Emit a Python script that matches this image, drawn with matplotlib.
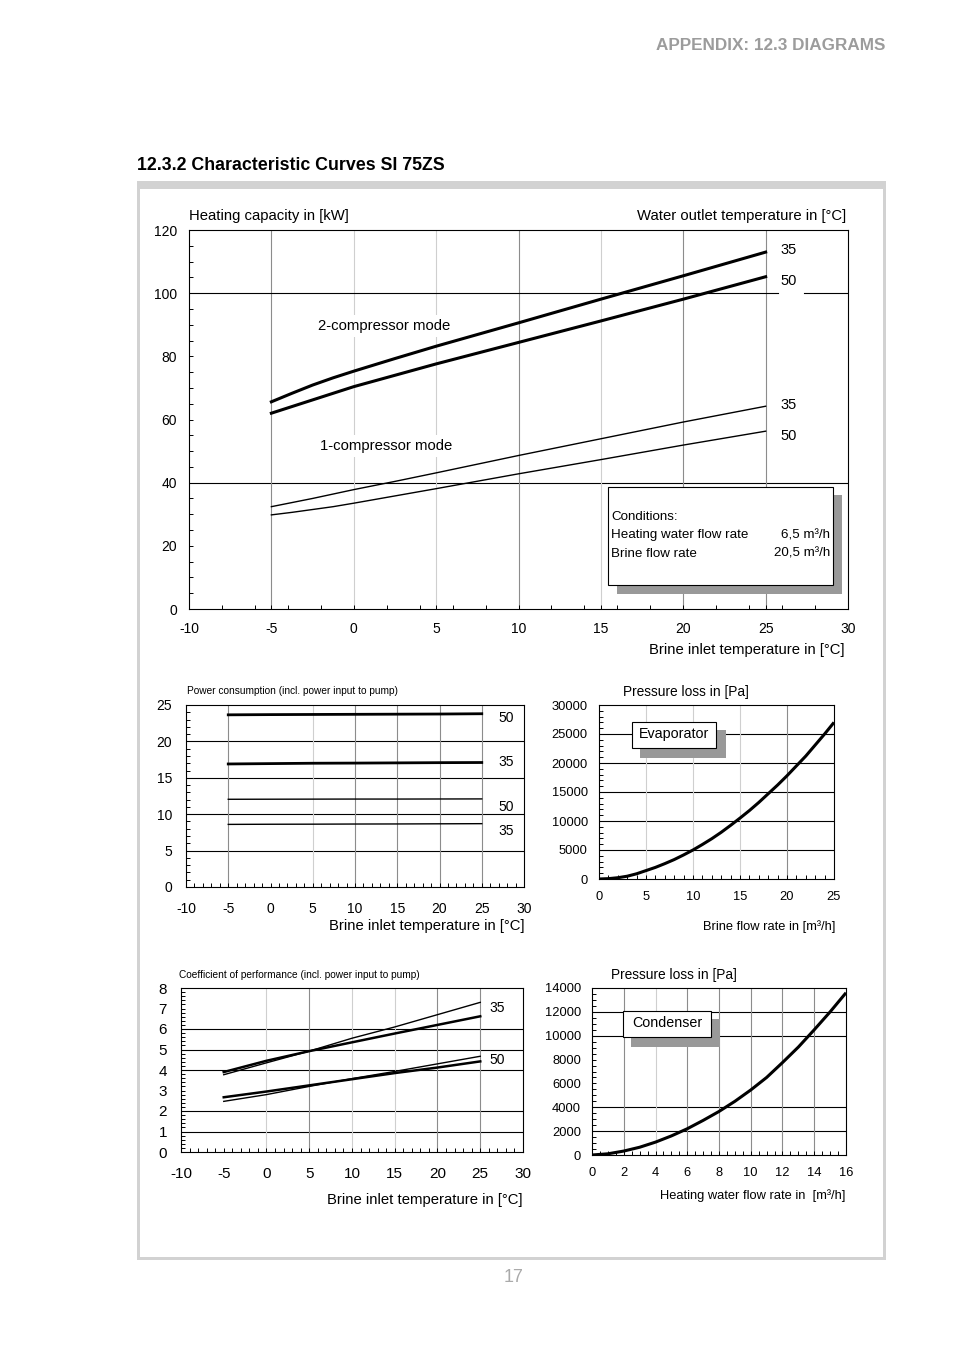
import matplotlib
matplotlib.use('Agg')
import matplotlib.pyplot as plt
from matplotlib.patches import Rectangle
from matplotlib.ticker import MultipleLocator

W, H = 954, 1351
NARROW = ['Liberation Sans Narrow', 'Liberation Sans', 'DejaVu Sans']
ARIAL = ['Liberation Sans', 'DejaVu Sans']
plt.rcParams['axes.unicode_minus'] = False
plt.rcParams['font.family'] = ARIAL

# ---------------- data ----------------
cap_temp = [-5, -3.75, -2.5, -1.25, 0, 2.5, 5, 10, 15, 20, 25]
cap_2c_35 = [65.6, 68.3, 70.9, 73.2, 75.3, 79.3, 83.2, 90.6, 98.1, 105.5, 113.0]
cap_2c_50 = [62.0, 64.1, 66.2, 68.3, 70.4, 74.0, 77.6, 84.4, 91.2, 98.1, 105.2]
cap_1c_35 = [32.4, 33.7, 35.0, 36.4, 37.8, 40.4, 43.1, 48.6, 53.9, 59.2, 64.2]
cap_1c_50 = [29.8, 30.6, 31.5, 32.4, 33.5, 35.8, 38.1, 42.8, 47.3, 51.9, 56.3]

pow_temp = [-5, 0, 5, 10, 15, 20, 25]
pow_2c_50 = [23.65, 23.68, 23.7, 23.72, 23.74, 23.76, 23.8]
pow_2c_35 = [16.9, 16.95, 17.0, 17.02, 17.05, 17.08, 17.1]
pow_1c_50 = [12.05, 12.06, 12.07, 12.08, 12.08, 12.09, 12.1]
pow_1c_35 = [8.6, 8.62, 8.63, 8.65, 8.66, 8.68, 8.7]

cop_temp = [-5, 0, 5, 10, 15, 20, 25]
cop_1c_35 = [3.77, 4.35, 4.92, 5.55, 6.10, 6.70, 7.30]
cop_2c_35 = [3.90, 4.45, 4.92, 5.35, 5.78, 6.20, 6.62]
cop_1c_50 = [2.47, 2.80, 3.20, 3.58, 3.93, 4.30, 4.67]
cop_2c_50 = [2.67, 2.95, 3.25, 3.55, 3.85, 4.12, 4.42]

evap_flow = [0, 1, 2, 3, 4, 5, 6, 7, 8, 9, 10, 11, 12, 13, 14, 15, 16, 17,
             18, 19, 20, 21, 22, 23, 24, 25]
evap_dp = [0, 60, 220, 480, 900, 1450, 2000, 2650, 3350, 4150, 5000, 5950,
           6950, 8050, 9250, 10500, 11800, 13200, 14700, 16200, 17800, 19500,
           21200, 23100, 25000, 27000]

cond_flow = [0, 1, 2, 3, 4, 5, 6, 7, 8, 9, 10, 11, 12, 13, 14, 15, 16]
cond_dp = [0, 100, 330, 650, 1080, 1600, 2200, 2900, 3650, 4500, 5450, 6500,
           7750, 9050, 10500, 12000, 13600]

# ---------------- helpers ----------------
def fx(x):
    return x / W

def fy(y):
    return 1 - y / H

def rect(l, t, r, b):
    return [l / W, 1 - b / H, (r - l) / W, (b - t) / H]

def frect(fig, l, t, r, b, **kw):
    p = Rectangle((fx(l), fy(b)), (r - l) / W, (b - t) / H,
                  transform=fig.transFigure, **kw)
    fig.patches.append(p)
    return p

def ftext(fig, x, y, s, **kw):
    kw.setdefault('va', 'center')
    return fig.text(fx(x), fy(y), s, **kw)

DARK = '#8c8c8c'
LIGHT = '#cfcfcf'

def style(ax, xlim, ylim, xmaj, xmin, ymaj, ymin, fs, fam, xpad, ypad,
          hlines, vgrid):
    ax.set_xlim(*xlim)
    ax.set_ylim(*ylim)
    ax.xaxis.set_major_locator(MultipleLocator(xmaj))
    ax.xaxis.set_minor_locator(MultipleLocator(xmin))
    ax.yaxis.set_major_locator(MultipleLocator(ymaj))
    ax.yaxis.set_minor_locator(MultipleLocator(ymin))
    ax.tick_params(which='both', direction='in', length=3, width=0.7,
                   top=False, right=False, color='black')
    ax.tick_params(axis='x', which='major', pad=xpad, labelsize=fs,
                   labelfontfamily=fam)
    ax.tick_params(axis='y', which='major', pad=ypad, labelsize=fs,
                   labelfontfamily=fam)
    for s in ax.spines.values():
        s.set_linewidth(0.8)
        s.set_color('black')
    for v in hlines:
        ax.axhline(v, color='black', lw=0.8, zorder=1)
    for v, c in vgrid:
        ax.axvline(v, color=c, lw=0.8, zorder=1)

fig = plt.figure(figsize=(W / 100, H / 100), dpi=100)

# page frame
frect(fig, 137, 181, 886, 1260, facecolor='#d2d2d2', edgecolor='none', zorder=-2)
frect(fig, 140, 189, 883, 1257, facecolor='white', edgecolor='none', zorder=-1)

ftext(fig, 885, 46, 'APPENDIX: 12.3 DIAGRAMS', ha='right', weight='bold',
      color='#9c9c9c', fontsize=12.3, family=ARIAL)
ftext(fig, 137, 166, '12.3.2 Characteristic Curves SI 75ZS', ha='left',
      weight='bold', fontsize=12.8, family=ARIAL)
ftext(fig, 514, 1277, '17', ha='center', color='#aaaaaa', fontsize=13,
      family=ARIAL)

# ---------------- heating capacity ----------------
ax1 = fig.add_axes(rect(189, 230, 848, 609))
style(ax1, (-10, 30), (0, 120), 5, 2, 20, 5, 10, NARROW, 9.5, 8.5,
      [40], [(-5, DARK), (0, LIGHT), (5, LIGHT), (10, DARK), (15, LIGHT),
             (20, DARK), (25, DARK)])
ax1.axhline(100, xmin=0, xmax=0.894, color='black', lw=0.8, zorder=1)
ax1.axhline(100, xmin=0.933, xmax=1, color='black', lw=0.8, zorder=1)
ax1.plot(cap_temp, cap_2c_35, color='black', lw=2.2, zorder=3)
ax1.plot(cap_temp, cap_2c_50, color='black', lw=2.2, zorder=3)
ax1.plot(cap_temp, cap_1c_35, color='black', lw=1.0, zorder=3)
ax1.plot(cap_temp, cap_1c_50, color='black', lw=1.0, zorder=3)
for lbl, yv in [('35', 113.7), ('50', 103.9), ('35', 64.6), ('50', 54.8)]:
    ax1.text(25.9, yv, lbl, ha='left', va='center', fontsize=10.5,
             family=NARROW)
ax1.text(-2.17, 89.6, '2-compressor mode', ha='left', va='center',
         fontsize=10.7, family=NARROW, zorder=2,
         bbox=dict(facecolor='white', edgecolor='none', pad=3))
ax1.text(-2.05, 51.6, '1-compressor mode', ha='left', va='center',
         fontsize=10.7, family=NARROW, zorder=2,
         bbox=dict(facecolor='white', edgecolor='none', pad=3))
ftext(fig, 189, 216, 'Heating capacity in [kW]', ha='left', fontsize=10.7,
      family=NARROW)
ftext(fig, 846, 216, 'Water outlet temperature in [°C]', ha='right',
      fontsize=10.7, family=NARROW)
ftext(fig, 845, 650, 'Brine inlet temperature in [°C]', ha='right',
      fontsize=10.7, family=NARROW)

# conditions box
frect(fig, 617, 495, 842, 594, facecolor='#999999', edgecolor='none', zorder=2)
frect(fig, 608, 487, 833, 585, facecolor='white', edgecolor='black',
      linewidth=0.8, zorder=2.5)
ftext(fig, 611, 517, 'Conditions:', ha='left', fontsize=9.6, family=NARROW,
      zorder=3)
ftext(fig, 611, 535, 'Heating water flow rate', ha='left', fontsize=9.6,
      family=NARROW, zorder=3)
ftext(fig, 830, 535, '6,5 m³/h', ha='right', fontsize=9.6, family=NARROW,
      zorder=3)
ftext(fig, 611, 554, 'Brine flow rate', ha='left', fontsize=9.6,
      family=NARROW, zorder=3)
ftext(fig, 830, 554, '20,5 m³/h', ha='right', fontsize=9.6, family=NARROW,
      zorder=3)

# ---------------- power consumption ----------------
ax2 = fig.add_axes(rect(186, 705, 524, 887))
style(ax2, (-10, 30), (0, 25), 5, 1, 5, 1, 10, ARIAL, 11, 10,
      [5, 10, 15, 20], [(-5, DARK), (5, LIGHT), (10, DARK), (15, DARK),
                        (20, DARK), (25, DARK)])
ax2.plot(pow_temp, pow_2c_50, color='black', lw=2.0, zorder=3)
ax2.plot(pow_temp, pow_2c_35, color='black', lw=2.0, zorder=3)
ax2.plot(pow_temp, pow_1c_50, color='black', lw=1.0, zorder=3)
ax2.plot(pow_temp, pow_1c_35, color='black', lw=1.0, zorder=3)
for lbl, yv in [('50', 23.2), ('35', 17.2), ('50', 11.0), ('35', 7.7)]:
    ax2.text(27.0, yv, lbl, ha='left', va='center', fontsize=10, family=ARIAL)
ftext(fig, 187, 691, 'Power consumption (incl. power input to pump)',
      ha='left', fontsize=7.3, family=NARROW)
ftext(fig, 525, 926, 'Brine inlet temperature in [°C]', ha='right',
      fontsize=10.7, family=ARIAL)

# ---------------- COP ----------------
ax3 = fig.add_axes(rect(181, 988, 523, 1152))
style(ax3, (-10, 30), (0, 8), 5, 1, 1, 0.2, 11, ARIAL, 11, 10,
      [1, 2, 4, 5, 6], [(0, LIGHT), (5, DARK), (10, LIGHT), (15, LIGHT),
                        (20, DARK), (25, DARK)])
ax3.plot(cop_temp, cop_1c_35, color='black', lw=1.0, zorder=3)
ax3.plot(cop_temp, cop_2c_35, color='black', lw=1.8, zorder=3)
ax3.plot(cop_temp, cop_1c_50, color='black', lw=1.0, zorder=3)
ax3.plot(cop_temp, cop_2c_50, color='black', lw=1.8, zorder=3)
for lbl, yv in [('35', 7.0), ('50', 4.5)]:
    ax3.text(26.1, yv, lbl, ha='left', va='center', fontsize=10, family=ARIAL)
ftext(fig, 179, 975, 'Coefficient of performance (incl. power input to pump)',
      ha='left', fontsize=7.3, family=NARROW)
ftext(fig, 523, 1200, 'Brine inlet temperature in [°C]', ha='right',
      fontsize=10.7, family=ARIAL)

# ---------------- evaporator ----------------
ax4 = fig.add_axes(rect(599, 705, 834, 879))
style(ax4, (0, 25), (0, 30000), 5, 1, 5000, 1000, 9.3, ARIAL, 9, 8,
      [5000, 10000, 15000, 20000, 25000],
      [(5, LIGHT), (10, LIGHT), (15, LIGHT), (20, DARK)])
ax4.plot(evap_flow, evap_dp, color='black', lw=2.2, zorder=3,
         solid_capstyle='butt')
ftext(fig, 623, 692, 'Pressure loss in [Pa]', ha='left', fontsize=9.9,
      family=ARIAL)
ftext(fig, 835, 927, 'Brine flow rate in [m³/h]', ha='right', fontsize=9.3,
      family=ARIAL)
frect(fig, 640, 730, 726, 758, facecolor='#999999', edgecolor='none', zorder=2)
frect(fig, 632, 722, 716, 748, facecolor='white', edgecolor='black',
      linewidth=0.8, zorder=2.5)
ftext(fig, 674, 734, 'Evaporator', ha='center', fontsize=10.3, family=ARIAL,
      zorder=3)

# ---------------- condenser ----------------
ax5 = fig.add_axes(rect(592, 988, 846, 1155))
style(ax5, (0, 16), (0, 14000), 2, 0.5, 2000, 500, 9.3, ARIAL, 8.5, 8,
      [2000, 4000, 10000, 12000],
      [(2, DARK), (4, LIGHT), (6, DARK), (8, DARK), (10, DARK), (12, DARK),
       (14, DARK)])
ax5.plot(cond_flow, cond_dp, color='black', lw=2.2, zorder=3,
         solid_capstyle='butt')
ftext(fig, 611, 975, 'Pressure loss in [Pa]', ha='left', fontsize=9.9,
      family=ARIAL)
ftext(fig, 845, 1196, 'Heating water flow rate in  [m³/h]', ha='right',
      fontsize=9.3, family=ARIAL)
frect(fig, 631, 1019, 720, 1047, facecolor='#999999', edgecolor='none', zorder=2)
frect(fig, 623, 1011, 711, 1037, facecolor='white', edgecolor='black',
      linewidth=0.8, zorder=2.5)
ftext(fig, 667, 1023, 'Condenser', ha='center', fontsize=10.3, family=ARIAL,
      zorder=3)

fig.savefig('out.png', dpi=100)
